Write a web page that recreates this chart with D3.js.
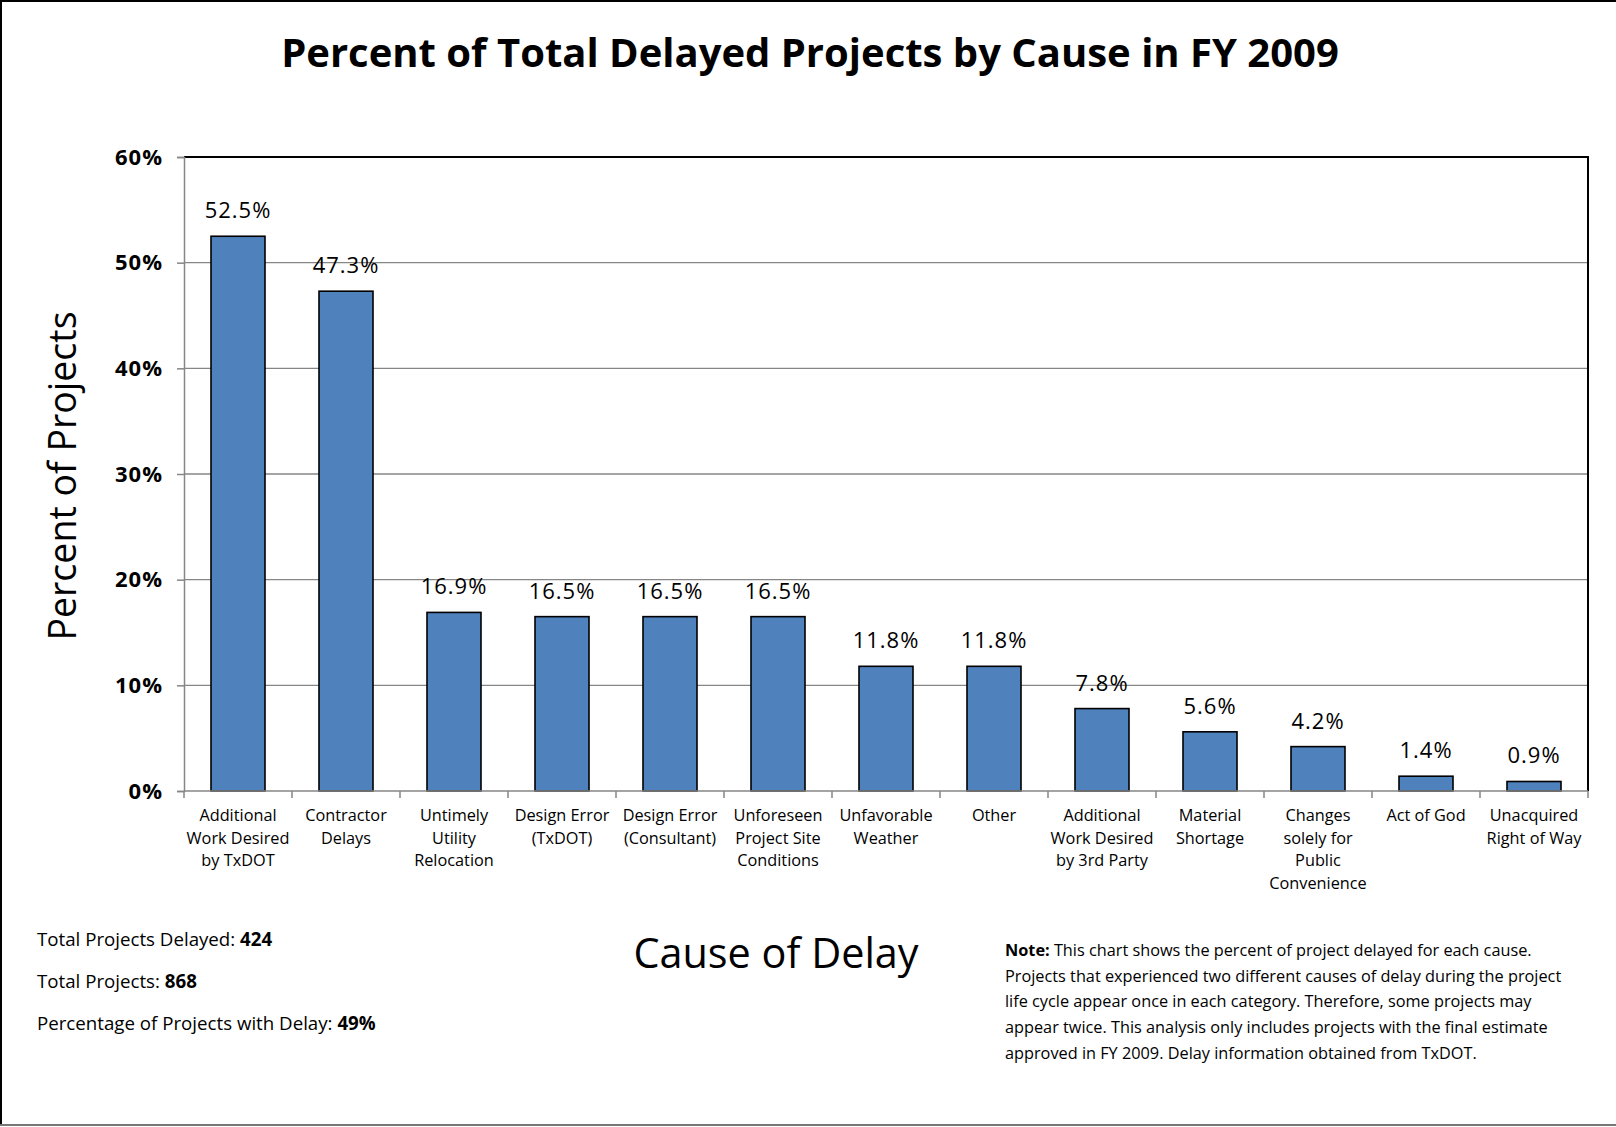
<!DOCTYPE html>
<html>
<head>
<meta charset="utf-8">
<script src="https://cdn.jsdelivr.net/npm/d3@7"></script>
<style>
  html, body { margin: 0; padding: 0; background: #fff; }
  svg { display: block; font-family: "Open Sans", sans-serif; }
</style>
</head>
<body>
<svg id="chart" width="1616" height="1127"></svg>
<script>
// Delay causes, FY 2009
const categories = [
  ["Additional", "Work Desired", "by TxDOT"],
  ["Contractor", "Delays"],
  ["Untimely", "Utility", "Relocation"],
  ["Design Error", "(TxDOT)"],
  ["Design Error", "(Consultant)"],
  ["Unforeseen", "Project Site", "Conditions"],
  ["Unfavorable", "Weather"],
  ["Other"],
  ["Additional", "Work Desired", "by 3rd Party"],
  ["Material", "Shortage"],
  ["Changes", "solely for", "Public", "Convenience"],
  ["Act of God"],
  ["Unacquired", "Right of Way"]
];
const percentValues = [52.5, 47.3, 16.9, 16.5, 16.5, 16.5, 11.8, 11.8, 7.8, 5.6, 4.2, 1.4, 0.9];
const yTickValues = [0, 10, 20, 30, 40, 50, 60];

const summaryLines = [
  ["Total Projects Delayed: ", "424"],
  ["Total Projects: ", "868"],
  ["Percentage of Projects with Delay: ", "49%"]
];
const noteLines = [
  "This chart shows the percent of project delayed for each cause.",
  "Projects that experienced two different causes of delay during the project",
  "life cycle appear once in each category. Therefore, some projects may",
  "appear twice. This analysis only includes projects with the final estimate",
  "approved in FY 2009. Delay information obtained from TxDOT."
];

const svg = d3.select("#chart");
const W = 1616, H = 1127;
const plot = { left: 184, right: 1588, top: 157, bottom: 791 };

// page frame
svg.append("line").attr("x1", 1).attr("y1", 0).attr("x2", 1).attr("y2", H - 2)
  .attr("stroke", "#000").attr("stroke-width", 2);
svg.append("line").attr("x1", 0).attr("y1", 1).attr("x2", W).attr("y2", 1)
  .attr("stroke", "#000").attr("stroke-width", 2);
svg.append("line").attr("x1", 0).attr("y1", H - 2).attr("x2", W).attr("y2", H - 2)
  .attr("stroke", "#777").attr("stroke-width", 2);

// title
svg.append("text")
  .attr("x", 810).attr("y", 67)
  .attr("text-anchor", "middle")
  .attr("font-weight", 700)
  .attr("font-size", 40)
  .text("Percent of Total Delayed Projects by Cause in FY 2009");

const x = d3.scaleBand()
  .domain(d3.range(categories.length))
  .range([plot.left, plot.right])
  .paddingInner(0.5)
  .paddingOuter(0.25);

const y = d3.scaleLinear().domain([0, 60]).range([plot.bottom, plot.top]);

// horizontal gridlines
svg.append("g")
  .selectAll("line")
  .data(yTickValues.filter(v => v > 0 && v < 60))
  .join("line")
  .attr("x1", plot.left).attr("x2", plot.right)
  .attr("y1", d => y(d)).attr("y2", d => y(d))
  .attr("stroke", "#868686").attr("stroke-width", 1.3);

// plot frame: top and right in black
svg.append("path")
  .attr("d", `M${plot.left},${y(60)}H${plot.right}V${plot.bottom}`)
  .attr("fill", "none").attr("stroke", "#000").attr("stroke-width", 2);

// y axis
const yAxis = svg.append("g")
  .attr("transform", `translate(${plot.left},0)`)
  .call(d3.axisLeft(y).tickValues(yTickValues).tickSize(7).tickPadding(14).tickFormat(d => d + "%"));
yAxis.select(".domain").attr("stroke", "#868686").attr("stroke-width", 1.5);
yAxis.selectAll(".tick line").attr("stroke", "#868686").attr("stroke-width", 1.5);
yAxis.selectAll(".tick text")
  .attr("font-family", "'Open Sans', sans-serif")
  .attr("font-size", 22).attr("font-weight", 700).attr("fill", "#000")
  .attr("letter-spacing", 1);

// bars
svg.append("g")
  .selectAll("rect")
  .data(percentValues)
  .join("rect")
  .attr("x", (d, i) => x(i))
  .attr("width", x.bandwidth())
  .attr("y", d => y(d))
  .attr("height", d => y(0) - y(d))
  .attr("fill", "#4F81BD")
  .attr("stroke", "#000")
  .attr("stroke-width", 1.6);

// x axis baseline with category separators
const sepPositions = d3.range(categories.length + 1).map(i => plot.left + i * (plot.right - plot.left) / categories.length);
svg.append("line")
  .attr("x1", plot.left).attr("x2", plot.right)
  .attr("y1", plot.bottom).attr("y2", plot.bottom)
  .attr("stroke", "#868686").attr("stroke-width", 1.5);
svg.append("g")
  .selectAll("line")
  .data(sepPositions)
  .join("line")
  .attr("x1", d => d).attr("x2", d => d)
  .attr("y1", plot.bottom).attr("y2", plot.bottom + 7)
  .attr("stroke", "#868686").attr("stroke-width", 1.5);

// value labels
svg.append("g")
  .selectAll("text")
  .data(percentValues)
  .join("text")
  .attr("x", (d, i) => x(i) + x.bandwidth() / 2)
  .attr("y", d => y(d) - 18)
  .attr("text-anchor", "middle")
  .attr("font-size", 22)
  .attr("letter-spacing", 1)
  .text(d => d.toFixed(1) + "%");

// category labels
const catG = svg.append("g");
categories.forEach((lines, i) => {
  const t = catG.append("text")
    .attr("x", x(i) + x.bandwidth() / 2)
    .attr("y", 821)
    .attr("text-anchor", "middle")
    .attr("font-size", 16.3);
  lines.forEach((ln, k) => {
    t.append("tspan")
      .attr("x", x(i) + x.bandwidth() / 2)
      .attr("y", 821 + k * 22.7)
      .text(ln);
  });
});

// axis titles
svg.append("text")
  .attr("transform", "translate(76,476) rotate(-90)")
  .attr("text-anchor", "middle")
  .attr("font-size", 37.5)
  .text("Percent of Projects");

svg.append("text")
  .attr("x", 776).attr("y", 968)
  .attr("text-anchor", "middle")
  .attr("font-size", 41.4)
  .text("Cause of Delay");

// summary counts
summaryLines.forEach((ln, k) => {
  const t = svg.append("text")
    .attr("x", 37).attr("y", 946 + k * 42)
    .attr("font-size", 18.7);
  t.append("tspan").text(ln[0]);
  t.append("tspan").attr("font-weight", 700).text(ln[1]);
});

// footnote
noteLines.forEach((ln, k) => {
  const t = svg.append("text")
    .attr("x", 1005).attr("y", 956 + k * 25.7)
    .attr("font-size", 16.3);
  if (k === 0) t.append("tspan").attr("font-weight", 700).text("Note: ");
  t.append("tspan").text(ln);
});
</script>
</body>
</html>
